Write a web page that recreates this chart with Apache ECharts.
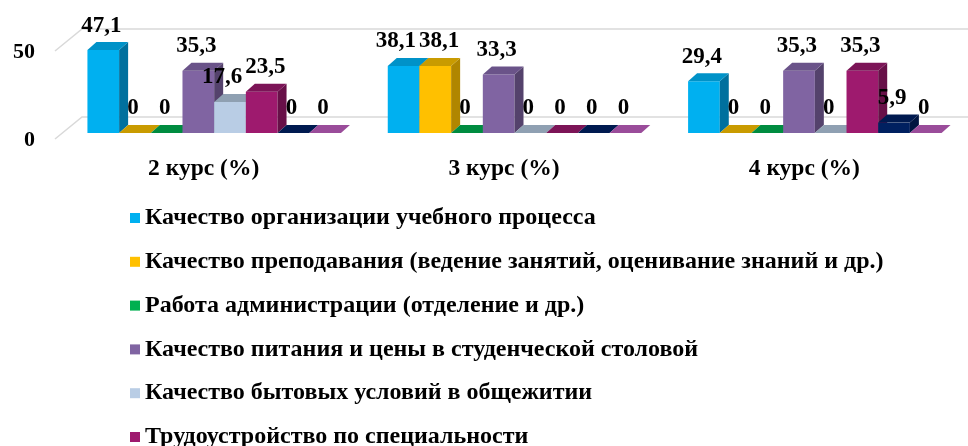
<!DOCTYPE html>
<html>
<head>
<meta charset="utf-8">
<script src="https://cdn.jsdelivr.net/npm/echarts@6/dist/echarts.min.js"></script>
<style>
  html, body { margin: 0; padding: 0; background: #fff; }
  #chart { width: 968px; height: 446px; }
</style>
</head>
<body>
<div id="chart"></div>
<script>
// categories and tick values
const courses = ['2 курс (%)', '3 курс (%)', '4 курс (%)'];
const yTicks = [0, 50];

// one array per answer option (values per course)
const orgProcess   = [47.1, 38.1, 29.4];
const teaching     = [0, 38.1, 0];
const admin        = [0, 0, 0];
const canteen      = [35.3, 33.3, 35.3];
const dormitory    = [17.6, 0, 0];
const employment   = [23.5, 0, 35.3];
const series7      = [0, 0, 5.9];
const series8      = [0, 0, 0];

const seriesNames = [
    'Качество организации учебного процесса',
    'Качество преподавания (ведение занятий, оценивание знаний и др.)',
    'Работа администрации (отделение и др.)',
    'Качество питания и цены в студенческой столовой',
    'Качество бытовых условий в общежитии',
    'Трудоустройство по специальности',
    'Ряд 7',
    'Ряд 8'
];
const seriesValues = [orgProcess, teaching, admin, canteen, dormitory, employment, series7, series8];

// front / side / top colours of the pseudo 3d bars
const palette = [
    { front: '#00B0F0', side: '#00709E', top: '#0092C8' },
    { front: '#FFC000', side: '#B08600', top: '#C99B00' },
    { front: '#00B050', side: '#007A38', top: '#008C40' },
    { front: '#8064A2', side: '#54426C', top: '#6A5389' },
    { front: '#B9CDE5', side: '#8696A8', top: '#8FA0B2' },
    { front: '#9E1A6E', side: '#681048', top: '#7C1457' },
    { front: '#002060', side: '#001540', top: '#001A50' },
    { front: '#A452A4', side: '#7A3A7A', top: '#9A4C9A' }
];

const DX = 9, DY = -8;      // depth of the bars
const BAR_RATIO = 0.1055;   // bar width share of the category band
const FONT = 'Liberation Serif';
const LABEL_FONT = 'bold 23px "' + FONT + '"';
const LABEL_DIST = 5;

const measureCtx = document.createElement('canvas').getContext('2d');
measureCtx.font = LABEL_FONT;
const fmt = v => String(v).replace('.', ',');

const chart = echarts.init(document.getElementById('chart'));

function barGeom(api, catIdx, value, barIdx) {
    const base = api.coord([catIdx, 0]);
    const top = api.coord([catIdx, value]);
    const band = api.size([1, 0])[0];
    const w = band * BAR_RATIO;
    const x0 = base[0] - 4 * w + barIdx * w;
    return { x0, w, yb: base[1], yt: top[1] };
}

function makeBarSeries(i) {
    const c = palette[i];
    return {
        name: seriesNames[i],
        type: 'custom',
        coordinateSystem: 'cartesian2d',
        itemStyle: { color: c.front },
        silent: true,
        z: 2,
        data: seriesValues[i].map((v, k) => [k, v]),
        renderItem(params, api) {
            const g = barGeom(api, api.value(0), api.value(1), i);
            const x1 = g.x0 + g.w;
            const children = [];
            if (api.value(1) > 0) {
                children.push({
                    type: 'rect',
                    shape: { x: g.x0, y: g.yt, width: g.w, height: g.yb - g.yt },
                    style: { fill: c.front }
                });
                children.push({
                    type: 'polygon',
                    shape: { points: [[x1, g.yt], [x1 + DX, g.yt + DY], [x1 + DX, g.yb + DY], [x1, g.yb]] },
                    style: { fill: c.side }
                });
            }
            children.push({
                type: 'polygon',
                shape: { points: [[g.x0, g.yt], [g.x0 + DX, g.yt + DY], [x1 + DX, g.yt + DY], [x1, g.yt]] },
                style: { fill: c.top }
            });
            return { type: 'group', children };
        }
    };
}

// label boxes of one category, pushed apart where neighbours collide
function labelLayout(api, k) {
    const boxes = seriesValues.map((arr, i) => {
        const g = barGeom(api, k, arr[k], i);
        const w = measureCtx.measureText(fmt(arr[k])).width;
        const bottom = g.yt + DY - LABEL_DIST - 4;
        return { cx: g.x0 + g.w / 2 - 2, w, bottom, top: bottom - 16 };
    });
    for (let pass = 0; pass < 4; pass++) {
        for (let i = 0; i < boxes.length - 1; i++) {
            const a = boxes[i], b = boxes[i + 1];
            const vOverlap = a.top < b.bottom && b.top < a.bottom;
            const over = (a.cx + a.w / 2 + 3) - (b.cx - b.w / 2);
            if (vOverlap && over > 0) {
                a.cx -= over / 2;
                b.cx += over / 2;
            }
        }
    }
    return boxes;
}

// value labels drawn above every bar, on top of all bars
const labelData = [];
seriesValues.forEach((arr, i) => arr.forEach((v, k) => labelData.push([k, v, i])));

const labelSeries = {
    type: 'custom',
    coordinateSystem: 'cartesian2d',
    silent: true,
    z: 5,
    data: labelData,
    renderItem(params, api) {
        const k = api.value(0), v = api.value(1), i = api.value(2);
        const g = barGeom(api, k, v, i);
        const box = labelLayout(api, k)[i];
        return {
            type: 'text',
            style: {
                x: box.cx,
                y: g.yt + DY - LABEL_DIST,
                text: fmt(v),
                align: 'center',
                verticalAlign: 'bottom',
                fill: '#000',
                font: LABEL_FONT
            }
        };
    }
};

// gridlines of the 3d wall: left side wall + back wall
const wallSeries = {
    type: 'custom',
    coordinateSystem: 'cartesian2d',
    silent: true,
    z: 1,
    data: yTicks.map(v => [0, v]),
    renderItem(params, api) {
        const cs = params.coordSys;
        const y = api.coord([0, api.value(1)])[1];
        return {
            type: 'polyline',
            shape: { points: [[cs.x - 9, y + 6], [cs.x + 18, y - 16], [cs.x + cs.width + 20, y - 16]] },
            style: { stroke: '#D9D9D9', lineWidth: 1.5, fill: null }
        };
    }
};

chart.setOption({
    animation: false,
    backgroundColor: '#fff',
    grid: { left: 64, right: 3, top: 45, height: 88 },
    xAxis: {
        type: 'category',
        data: courses,
        axisLine: { show: false },
        axisTick: { show: false },
        axisLabel: {
            margin: 24,
            padding: [0, 21, 0, 0],
            fontFamily: FONT,
            fontWeight: 'bold',
            fontSize: 23.5,
            color: '#000'
        }
    },
    yAxis: {
        type: 'value',
        min: 0,
        max: 50,
        interval: 50,
        axisLine: { show: false },
        axisTick: { show: false },
        splitLine: { show: false },
        axisLabel: {
            margin: 29,
            verticalAlign: 'top',
            lineHeight: 14,
            fontFamily: FONT,
            fontWeight: 'bold',
            fontSize: 22,
            color: '#000'
        }
    },
    legend: {
        orient: 'vertical',
        left: 130,
        top: 206,
        padding: 0,
        height: 600,
        itemGap: 19.8,
        itemWidth: 10,
        itemHeight: 10,
        icon: 'rect',
        selectedMode: false,
        data: seriesNames.slice(0, 6),
        textStyle: {
            fontFamily: FONT,
            fontWeight: 'bold',
            fontSize: 24,
            lineHeight: 24,
            color: '#000'
        }
    },
    series: [wallSeries].concat(seriesNames.map((n, i) => makeBarSeries(i)), [labelSeries])
});

window.addEventListener('resize', () => chart.resize());
</script>
</body>
</html>
